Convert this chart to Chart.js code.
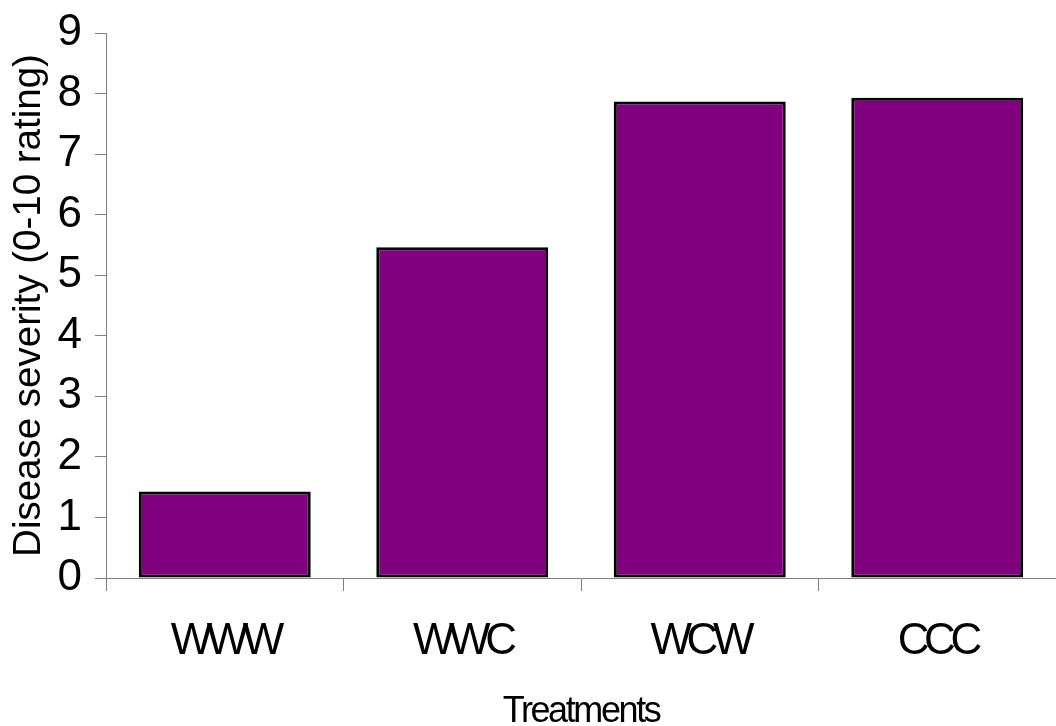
<!DOCTYPE html>
<html lang="en">
<head>
    <meta charset="UTF-8">
    <title>Disease severity by treatment</title>
    <script src="https://cdn.jsdelivr.net/npm/chart.js"></script>
    <style>
        body {
            margin: 0;
            background-color: #fff;
        }

        #chart-container {
            width: 1056px;
            height: 726px;
            position: relative;
        }
    </style>
</head>
<body>
<div id="chart-container">
    <canvas id="severityChart"></canvas>
</div>
<script>
    // Treatments and disease severity (0-10 rating)
    var treatments = ["WWW", "WWC", "WCW", "CCC"];
    var severity = [1.43, 5.46, 7.87, 7.93];
    var yMin = 0;
    var yMax = 9;

    var axisColor = "#808080";
    var fontFamily = "'Liberation Sans', Arial, sans-serif";

    // the original figure has tight letter spacing on the x axis texts
    function tightenText(scale, labelSpacing, titleSpacing) {
        if (scale._tightened) return;
        scale._tightened = true;
        var drawLabels = scale.drawLabels;
        var drawTitle = scale.drawTitle;
        scale.drawLabels = function (area) {
            this.ctx.save();
            this.ctx.letterSpacing = labelSpacing;
            drawLabels.call(this, area);
            this.ctx.restore();
        };
        scale.drawTitle = function (area) {
            this.ctx.save();
            this.ctx.letterSpacing = titleSpacing;
            drawTitle.call(this, area);
            this.ctx.restore();
        };
    }

    var ctx = document.getElementById("severityChart").getContext("2d");
    var myChart = new Chart(ctx, {
        type: "bar",
        data: {
            labels: treatments,
            datasets: [
                {
                    label: "Disease severity",
                    data: severity,
                    backgroundColor: "#800080",
                    borderColor: "#000000",
                    borderWidth: 3,
                    borderSkipped: false,
                    categoryPercentage: 1.0,
                    barPercentage: 0.724,
                },
            ],
        },
        options: {
            responsive: true,
            maintainAspectRatio: false,
            animation: false,
            layout: {
                padding: { top: 33, right: 0, bottom: 0, left: 0 },
            },
            plugins: {
                legend: { display: false },
                tooltip: { enabled: false },
            },
            scales: {
                x: {
                    grid: {
                        offset: true,
                        drawOnChartArea: false,
                        drawTicks: true,
                        tickLength: 13,
                        color: axisColor,
                    },
                    border: { display: true, color: axisColor },
                    ticks: {
                        color: "#000",
                        padding: 24,
                        font: { family: fontFamily, size: 44 },
                    },
                    title: {
                        display: true,
                        text: "Treatments",
                        color: "#000",
                        padding: 0,
                        font: { family: fontFamily, size: 36, lineHeight: 0.8 },
                    },
                    afterFit: function (scale) {
                        scale.height = 148;
                        tightenText(scale, "-5.5px", "-2.4px");
                    },
                },
                y: {
                    min: yMin,
                    max: yMax,
                    grid: {
                        drawOnChartArea: false,
                        drawTicks: true,
                        tickLength: 11,
                        color: axisColor,
                    },
                    border: { display: true, color: axisColor },
                    ticks: {
                        stepSize: 1,
                        color: "#000",
                        padding: 13,
                        font: { family: fontFamily, size: 44 },
                    },
                    title: {
                        display: true,
                        text: "Disease severity (0-10 rating)",
                        color: "#000",
                        padding: { top: 6, bottom: 0 },
                        font: { family: fontFamily, size: 38.5 },
                    },
                    afterFit: function (scale) {
                        scale.width = 106;
                        scale.paddingTop = 0;
                        scale.paddingBottom = 0;
                    },
                },
            },
        },
    });
</script>
</body>
</html>
